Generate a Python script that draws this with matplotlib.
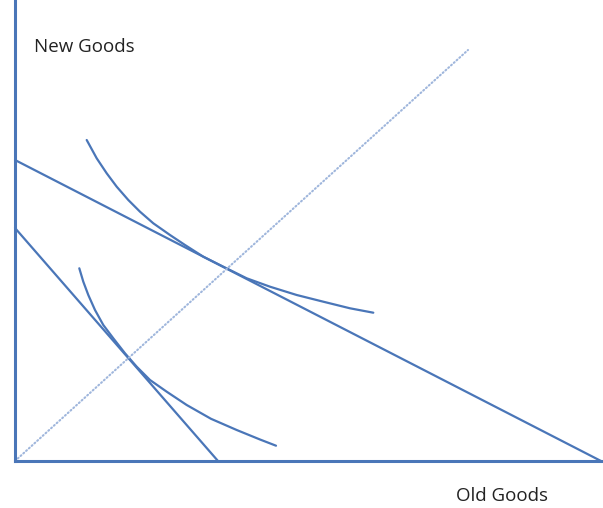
import matplotlib
matplotlib.use("Agg")
import matplotlib.pyplot as plt

# Budget lines: (x-intercept, y-intercept)
budget_outer = (586, 301)
budget_inner = (203, 233)

# Diagonal (expansion path)
diag_x = [0, 453]
diag_y = [0, 411]

# Indifference curves
ic_high_x = [71.7, 81.7, 91.7, 101.7, 113.3, 125, 138.3, 155, 170, 188.3,
             208.3, 231.7, 255, 281.7, 308.3, 335, 358.3]
ic_high_y = [321, 302.7, 287.7, 274.3, 261, 249.3, 237.7, 226, 216, 204.3,
             194.3, 182.7, 174.3, 166, 159.3, 152.7, 148.3]
ic_low_x = [64.3, 68.3, 73.3, 80, 88.3, 98.3, 110, 121.7, 135, 151.7,
            171.7, 196, 221.7, 245, 261]
ic_low_y = [192.7, 179.3, 166, 151, 136, 122.7, 107.7, 94.3, 81, 69.3,
            56, 42.2, 31, 21.5, 15.3]

x_label = "Old Goods"
y_label = "New Goods"

col = "#4a76b8"
fig = plt.figure(figsize=(6.03, 5.08), dpi=100)
ax = fig.add_axes([0, 0, 1, 1])
ax.set_xlim(-15, 588)
ax.set_ylim(-47, 461)

kw = dict(color=col, lw=1.6, solid_capstyle="round", solid_joinstyle="round")
ax.plot([0, budget_outer[0]], [budget_outer[1], 0], **kw)
ax.plot([0, budget_inner[0]], [budget_inner[1], 0], **kw)
ax.plot(ic_high_x, ic_high_y, **kw)
ax.plot(ic_low_x, ic_low_y, **kw)
ax.plot(diag_x, diag_y, color="#9fb6dc", lw=1.5, linestyle=(0, (0.5, 1.3)), dash_capstyle="round")

for s in ["top", "right"]:
    ax.spines[s].set_visible(False)
ax.spines["left"].set_position(("data", 0))
ax.spines["bottom"].set_position(("data", 0))
ax.spines["left"].set_bounds(0, 461)
ax.spines["bottom"].set_bounds(0, 586)
for s in ["left", "bottom"]:
    ax.spines[s].set_color(col)
    ax.spines[s].set_linewidth(2.2)
ax.set_xticks([])
ax.set_yticks([])
ax.patch.set_visible(False)

ax.text(19, 414, y_label, fontsize=13.5, family="Open Sans", color="#222222", va="center", ha="left")
ax.text(441, -35, x_label, fontsize=13.5, family="Open Sans", color="#222222", va="center", ha="left")

fig.savefig("out.png", dpi=100)
